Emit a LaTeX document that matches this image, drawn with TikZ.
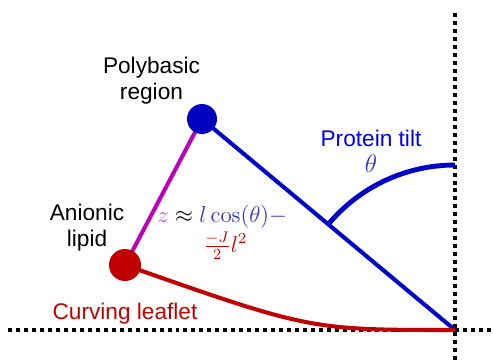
\documentclass[tikz,border=0pt]{standalone}
\usepackage[no-math]{fontspec}
\usepackage{graphicx}
\setmainfont{Liberation Sans}
\usetikzlibrary{calc}
\definecolor{bluedk}{RGB}{0,0,192}
\definecolor{blueln}{RGB}{0,0,200}
\definecolor{bluetxt}{RGB}{0,0,245}
\definecolor{bluemath}{RGB}{50,50,205}
\definecolor{reddk}{RGB}{192,0,0}
\definecolor{redtxt}{RGB}{200,0,0}
\definecolor{magln}{RGB}{190,0,190}
\definecolor{magtxt}{RGB}{205,60,205}
\tikzset{
  px/.style={x=0.02cm,y=0.02cm},
  axisline/.style={line width=2.27pt, dash pattern=on 2.27pt off 2.27pt, black},
  bead/.style={circle, inner sep=0pt},
  lbl/.style={font=\fontsize{12.9}{14.7}\selectfont, align=center, inner sep=0pt},
  mth/.style={font=\fontsize{12}{15}\selectfont, inner sep=0pt},
  thick4/.style={line width=2.3pt}
}
\begin{document}
\begin{tikzpicture}[px]
\useasboundingbox (0,0) rectangle (494,360);
% axes
\coordinate (P) at (455,30);
\coordinate (vtop) at (455,347);
\coordinate (vbot) at (455,0);
\coordinate (hl) at (8,30);
\coordinate (hr) at (494,30);
\draw[axisline] (vtop) -- (vbot);
\draw[axisline] (hl) -- (hr);
% beads positions
\coordinate (Bc) at (202,241);
\coordinate (Rc) at (125,95);
% lines
\draw[blueln, thick4] (Bc) -- (P);
\draw[magln, thick4] (Bc) -- (Rc);
\draw[reddk, thick4] (Rc) .. controls (310,30) .. (P);
% tilt arc
\coordinate (arcstart) at ($(P)+(140.2:165)$);
\draw[blueln, line width=2.8pt] (arcstart) arc[start angle=140.2, end angle=90, radius=165];
% beads
\node[bead, fill=bluedk, minimum size=30*0.02cm] (B) at (Bc) {};
\node[bead, fill=reddk, minimum size=32*0.02cm] (R) at (Rc) {};
% labels
\node[lbl] (poly) at (151.5,279.5) {Polybasic\\region};
\node[lbl] (anion) at (87,132) {Anionic\\lipid};
\node[lbl, text=bluetxt] (tilt) at (371,209) {Protein tilt\\\textcolor{bluemath}{\fontsize{14.4}{14.7}\selectfont$\theta$}};
\node[lbl, text=redtxt, anchor=base] (leaf) at (125,41) {Curving leaflet};
\node[mth, anchor=base west] (eq1) at (157,138) {\scalebox{1.09}{$\textcolor{magtxt}{z}\approx\textcolor{bluemath}{l\cos(\theta)-}$}};
\node[mth, anchor=base west, text=redtxt] (eq2) at (203,108) {\scalebox{1.09}{$\frac{-J}{2}l^2$}};
\end{tikzpicture}
\end{document}
